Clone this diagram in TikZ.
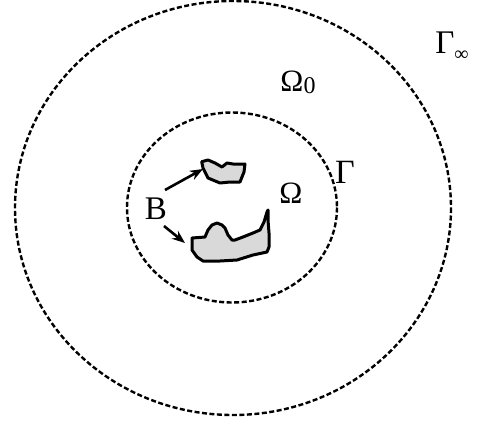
\documentclass[tikz,border=0pt]{standalone}
\usepackage{fontspec}
\setmainfont{Liberation Serif}
\usetikzlibrary{arrows.meta}
\begin{document}
\begin{tikzpicture}[x=1pt,y=-1pt,
  bound/.style={line width=2.4pt,dash pattern=on 5pt off 2.5pt},
  blob/.style={draw,line width=3pt,fill=gray!30,line join=round},
  lbl/.style={inner sep=0pt,font=\fontsize{31}{33}\selectfont},
  arr/.style={line width=2.6pt,-{Stealth[length=13pt,width=10pt]}}]
\useasboundingbox (0,0) rectangle (481,423);
\draw[bound] (233,208) ellipse [x radius=218, y radius=207];
\draw[bound] (232,207.5) ellipse [x radius=105, y radius=95];
\node[lbl,font=\fontsize{33}{35}\selectfont] (ginf) at (452,46) {Γ\raisebox{-7pt}{\fontsize{20}{20}\selectfont ∞}};
\node[lbl] (om0) at (298,82) {Ω\raisebox{-2pt}{\fontsize{24}{24}\selectfont 0}};
\node[lbl,font=\fontsize{34}{36}\selectfont] (gam) at (345,172) {Γ};
\node[lbl] (om) at (291,193) {Ω};
\node[lbl,font=\fontsize{33}{35}\selectfont] (b) at (156,209) {B};
\draw[blob] (201.7,161.7) -- (208,160) -- (215,163) -- (222,167) -- (227,163) -- (233,164) -- (245,164) -- (244,172) -- (240,182) -- (230,182) -- (220,183) -- (208,178) -- (205,172) -- (203,168) -- cycle;
\coordinate (t1) at (203,169);
\draw[blob] (192,238) -- (205,237) -- (208,230) -- (212,225) -- (217,223) -- (222,225) -- (225,228) -- (228,235) -- (232,240) -- (235,240) -- (243,237) -- (253,233) -- (260,230) -- (264,222) -- (267,212) -- (268,210) -- (268,220) -- (269,233) -- (269,247) -- (267,252) -- (253,255) -- (237,260) -- (220,261) -- (203,261) -- (197,257) -- (192,250) -- cycle;
\coordinate (t2) at (185,243);
\draw[arr] (165,190) -- (t1);
\draw[arr] (164,226) -- (t2);
\end{tikzpicture}
\end{document}
